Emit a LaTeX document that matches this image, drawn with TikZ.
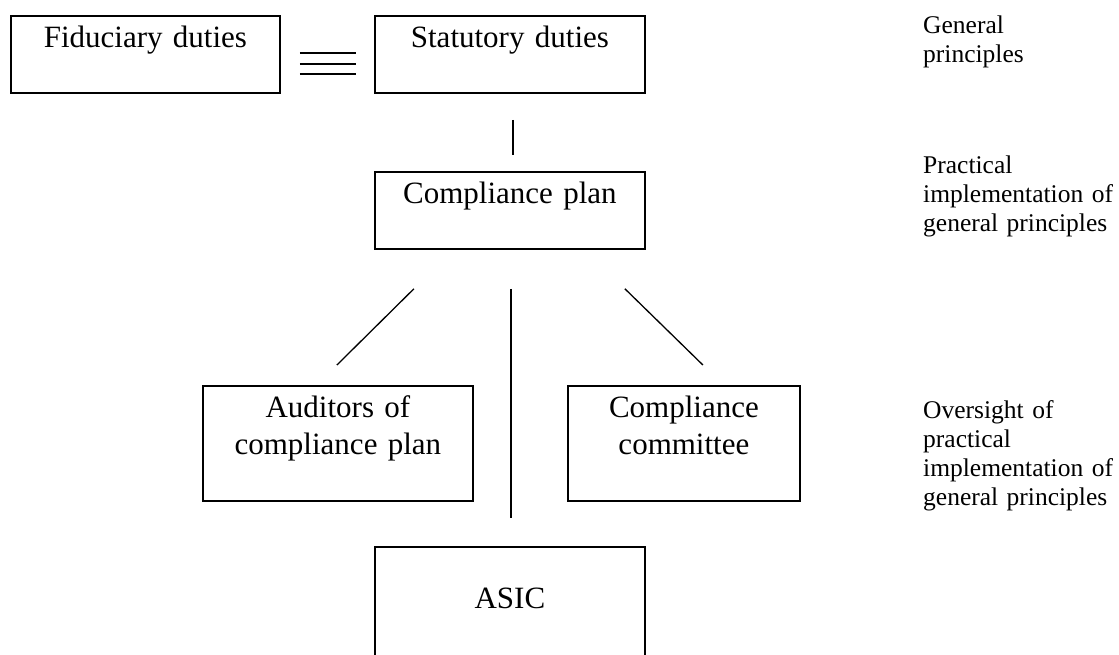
\documentclass[tikz,border=0pt]{standalone}
\usepackage{fontspec}
\setmainfont{Liberation Serif}
\usepackage{tikz}
\usetikzlibrary{calc}
\newcommand{\boxfont}{\fontsize{31}{37}\selectfont}
\newcommand{\notefont}{\fontsize{25.5}{29}\selectfont}
\tikzset{
  duty/.style={draw, line width=1.8pt, inner sep=0pt, align=center, font=\boxfont, anchor=north west},
  link/.style={line width=1.3pt},
  note/.style={anchor=base west, inner sep=0pt, text width=200pt, align=left, font=\notefont},
}
\begin{document}
\begin{tikzpicture}[x=1pt, y=-1pt]
\useasboundingbox (0,0) rectangle (1119,654);
\node [duty, text width=269pt, text height=32pt, text depth=45pt] (fid) at (10,15) {Fiduciary duties};
\node [duty, text width=270pt, text height=32pt, text depth=45pt] (stat) at (374,15) {Statutory duties};
\node [duty, text width=270pt, text height=32pt, text depth=45pt] (plan) at (374,171) {Compliance plan};
\node [duty, text width=270pt, text height=32pt, text depth=83pt] (aud) at (202,385) {Auditors of\\compliance plan};
\node [duty, text width=232pt, text height=32pt, text depth=83pt] (cttee) at (567,385) {Compliance\\committee};
\node [duty, text width=270pt, text height=62pt, text depth=82pt] (asic) at (374,546) {ASIC};
\foreach \dy in {1.5,-9.5,-19.5}
  \draw [link] ([shift={(19pt,\dy pt)}]fid.east) -- ([shift={(-18pt,\dy pt)}]stat.west);
\draw [link, shorten <=26pt, shorten >=16pt] ([xshift=3pt]stat.south) -- ([xshift=3pt]plan.north);
\draw [link] ([shift={(-96pt,-39pt)}]plan.south) -- ([shift={(-1pt,20pt)}]aud.north);
\draw [link] ([shift={(115pt,-39pt)}]plan.south) -- ([shift={(19pt,20pt)}]cttee.north);
\draw [link] ([shift={(1pt,-39pt)}]plan.south) -- ([shift={(1pt,28pt)}]asic.north);
\node [note] (gen) at (923,33) {General\\principles};
\node [note] (prac) at (923,173) {Practical\\implementation of\\general principles};
\node [note] (over) at (923,418) {Oversight of\\practical\\implementation of\\general principles};
\end{tikzpicture}
\end{document}
